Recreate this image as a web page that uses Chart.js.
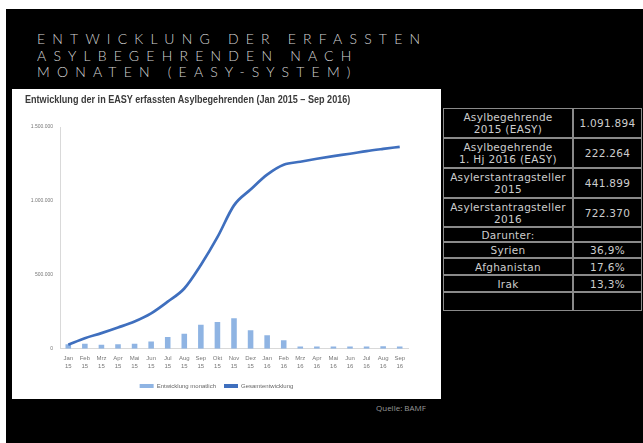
<!DOCTYPE html>
<html lang="de">
<head>
  <meta charset="UTF-8">
  <title>Entwicklung der erfassten Asylbegehrenden</title>
  <style>
    html, body {
      margin: 0;
      padding: 0;
      background: #fff;
      width: 643px;
      height: 443px;
      overflow: hidden;
    }
    #slide {
      position: absolute;
      left: 6px;
      top: 9px;
      width: 637px;
      height: 434px;
      background: #000;
    }
    #heading {
      position: absolute;
      left: 37px;
      top: 31px;
      margin: 0;
      font-family: Lato, "Open Sans", sans-serif;
      font-weight: 300;
      font-size: 14px;
      line-height: 16.5px;
      letter-spacing: 7.2px;
      color: #d4d4d4;
    }
    #chartBox {
      position: absolute;
      left: 12px;
      top: 89px;
      width: 429px;
      height: 310px;
      background: #fff;
    }
    #chartTitle {
      position: absolute;
      left: 25px;
      top: 93px;
      font-family: "Liberation Sans", Arial, sans-serif;
      font-weight: bold;
      font-size: 11px;
      color: #3a3a3a;
      white-space: nowrap;
      transform: scaleX(0.825);
      transform-origin: left top;
    }
    #statTable {
      position: absolute;
      left: 443px;
      top: 108px;
      width: 199px;
      border-collapse: separate;
      border-spacing: 0;
      font-family: "DejaVu Sans", sans-serif;
      font-size: 10.5px;
      line-height: 12px;
      color: #cdcdcd;
      letter-spacing: 0.3px;
    }
    #statTable td {
      border: 1px solid #8a8a8a;
      text-align: center;
      padding: 0 2px;
    }
    #statTable td:first-child { width: 124px; }
    #source {
      position: absolute;
      left: 376px;
      top: 402px;
      font-family: "Open Sans", sans-serif;
      font-size: 8px;
      color: #999;
    }
  </style>
</head>
<body>
  <div id="slide"></div>
  <h1 id="heading">ENTWICKLUNG DER ERFASSTEN<br>ASYLBEGEHRENDEN NACH<br>MONATEN (EASY-SYSTEM)</h1>
  <div id="chartBox"><canvas id="easyChart"></canvas></div>
  <div id="chartTitle">Entwicklung der in EASY erfassten Asylbegehrenden (Jan 2015 – Sep 2016)</div>

  <table id="statTable">
    <tr style="height:30px"><td>Asylbegehrende<br>2015 (EASY)</td><td>1.091.894</td></tr>
    <tr style="height:30px"><td>Asylbegehrende<br>1. Hj 2016 (EASY)</td><td>222.264</td></tr>
    <tr style="height:30px"><td>Asylerstantragsteller<br>2015</td><td>441.899</td></tr>
    <tr style="height:29px"><td>Asylerstantragsteller<br>2016</td><td>722.370</td></tr>
    <tr style="height:15px"><td>Darunter:</td><td></td></tr>
    <tr style="height:16px"><td>Syrien</td><td>36,9%</td></tr>
    <tr style="height:17px"><td>Afghanistan</td><td>17,6%</td></tr>
    <tr style="height:17px"><td>Irak</td><td>13,3%</td></tr>
    <tr style="height:19px"><td></td><td></td></tr>
  </table>

  <div id="source">Quelle: BAMF</div>

  <script src="https://cdn.jsdelivr.net/npm/chart.js/dist/chart.umd.min.js"></script>
  <script>
    // month / year tick labels
    const months = ['Jan', 'Feb', 'Mrz', 'Apr', 'Mai', 'Jun', 'Jul', 'Aug', 'Sep', 'Okt', 'Nov', 'Dez',
                    'Jan', 'Feb', 'Mrz', 'Apr', 'Mai', 'Jun', 'Jul', 'Aug', 'Sep'];
    const years = ['15', '15', '15', '15', '15', '15', '15', '15', '15', '15', '15', '15',
                   '16', '16', '16', '16', '16', '16', '16', '16', '16'];

    // monthly registrations (bars)
    const monthly = [30000, 34000, 27000, 30000, 34000, 50000, 80000, 102000, 163000, 181000, 206000, 125000,
                     91000, 57000, 16000, 16000, 16000, 16000, 16000, 18000, 15000];

    // cumulative total (line)
    const cumulative = [28000, 72000, 106000, 144000, 185000, 240000, 319000, 408000, 567000, 755000, 970000, 1077000,
                        1178000, 1245000, 1265000, 1285000, 1303000, 1319000, 1337000, 1352000, 1366000];

    const yTicks = [0, 500000, 1000000, 1500000];
    const yTickLabels = ['0', '500.000', '1.000.000', '1.500.000'];

    const labels = months.map((m, i) => [m, years[i]]);
    const small = '"Liberation Sans", Arial, sans-serif';

    new Chart(document.getElementById('easyChart'), {
      data: {
        labels: labels,
        datasets: [
          {
            type: 'line',
            label: 'Gesamtentwicklung',
            data: cumulative,
            borderColor: '#3f6fbe',
            backgroundColor: '#3f6fbe',
            borderWidth: 2.7,
            pointRadius: 0,
            cubicInterpolationMode: 'monotone',
            order: 0
          },
          {
            type: 'bar',
            label: 'Entwicklung monatlich',
            data: monthly,
            backgroundColor: '#8fb4e3',
            categoryPercentage: 0.8,
            barPercentage: 0.42,
            order: 1
          }
        ]
      },
      options: {
        responsive: true,
        maintainAspectRatio: false,
        animation: false,
        layout: { padding: { left: 13, right: 33, top: 38, bottom: 0 } },
        plugins: {
          legend: {
            position: 'bottom',
            reverse: true,
            labels: {
              color: '#666',
              font: { family: small, size: 6 },
              boxWidth: 14,
              boxHeight: 4,
              padding: 8,
              generateLabels(chart) {
                return chart.data.datasets.map((ds, i) => ({
                  text: ds.label,
                  fillStyle: ds.type === 'bar' ? ds.backgroundColor : ds.borderColor,
                  strokeStyle: ds.type === 'bar' ? ds.backgroundColor : ds.borderColor,
                  lineWidth: 0,
                  datasetIndex: i,
                  fontColor: '#666'
                }));
              }
            }
          },
          tooltip: { enabled: false }
        },
        scales: {
          x: {
            grid: { display: false, drawTicks: false },
            border: { display: true, color: '#d9d9d9' },
            ticks: {
              color: '#777',
              font: { family: small, size: 6, lineHeight: 1.35 },
              maxRotation: 0,
              autoSkip: false,
              padding: 5
            }
          },
          y: {
            min: 0,
            max: 1500000,
            afterBuildTicks(scale) {
              scale.ticks = yTicks.map(v => ({ value: v }));
            },
            afterFit(scale) { scale.width = 35; },
            grid: { display: false, drawTicks: false },
            border: { display: true, color: '#d9d9d9' },
            ticks: {
              color: '#777',
              font: { family: small, size: 5 },
              padding: 7,
              callback: (v, i) => yTickLabels[i]
            }
          }
        }
      }
    });
  </script>
</body>
</html>
